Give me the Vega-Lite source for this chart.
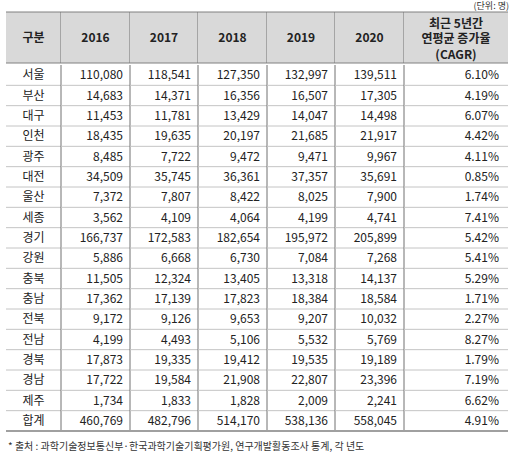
{
  "$schema": "https://vega.github.io/schema/vega-lite/v6.json",
  "padding": {"left": 5, "right": 8, "top": 1, "bottom": 0},
  "spacing": 0,
  "config": {
    "view": {"stroke": null},
    "font": "Noto Sans CJK KR",
    "concat": {"spacing": 0},
    "text": {"fontSize": 12, "color": "#222222", "baseline": "middle"},
    "title": {"fontSize": 10, "fontWeight": "normal", "color": "#333333"}
  },
  "datasets": {
    "header": [
      {"key": "region", "label": "구분"},
      {"key": "y2016", "label": "2016"},
      {"key": "y2017", "label": "2017"},
      {"key": "y2018", "label": "2018"},
      {"key": "y2019", "label": "2019"},
      {"key": "y2020", "label": "2020"},
      {"key": "cagr", "label": "최근 5년간\n연평균 증가율\n(CAGR)"}
    ],
    "rows": [
      {"region": "서울", "y2016": 110080, "y2017": 118541, "y2018": 127350, "y2019": 132997, "y2020": 139511, "cagr": 0.0610},
      {"region": "부산", "y2016": 14683, "y2017": 14371, "y2018": 16356, "y2019": 16507, "y2020": 17305, "cagr": 0.0419},
      {"region": "대구", "y2016": 11453, "y2017": 11781, "y2018": 13429, "y2019": 14047, "y2020": 14498, "cagr": 0.0607},
      {"region": "인천", "y2016": 18435, "y2017": 19635, "y2018": 20197, "y2019": 21685, "y2020": 21917, "cagr": 0.0442},
      {"region": "광주", "y2016": 8485, "y2017": 7722, "y2018": 9472, "y2019": 9471, "y2020": 9967, "cagr": 0.0411},
      {"region": "대전", "y2016": 34509, "y2017": 35745, "y2018": 36361, "y2019": 37357, "y2020": 35691, "cagr": 0.0085},
      {"region": "울산", "y2016": 7372, "y2017": 7807, "y2018": 8422, "y2019": 8025, "y2020": 7900, "cagr": 0.0174},
      {"region": "세종", "y2016": 3562, "y2017": 4109, "y2018": 4064, "y2019": 4199, "y2020": 4741, "cagr": 0.0741},
      {"region": "경기", "y2016": 166737, "y2017": 172583, "y2018": 182654, "y2019": 195972, "y2020": 205899, "cagr": 0.0542},
      {"region": "강원", "y2016": 5886, "y2017": 6668, "y2018": 6730, "y2019": 7084, "y2020": 7268, "cagr": 0.0541},
      {"region": "충북", "y2016": 11505, "y2017": 12324, "y2018": 13405, "y2019": 13318, "y2020": 14137, "cagr": 0.0529},
      {"region": "충남", "y2016": 17362, "y2017": 17139, "y2018": 17823, "y2019": 18384, "y2020": 18584, "cagr": 0.0171},
      {"region": "전북", "y2016": 9172, "y2017": 9126, "y2018": 9653, "y2019": 9207, "y2020": 10032, "cagr": 0.0227},
      {"region": "전남", "y2016": 4199, "y2017": 4493, "y2018": 5106, "y2019": 5532, "y2020": 5769, "cagr": 0.0827},
      {"region": "경북", "y2016": 17873, "y2017": 19335, "y2018": 19412, "y2019": 19535, "y2020": 19189, "cagr": 0.0179},
      {"region": "경남", "y2016": 17722, "y2017": 19584, "y2018": 21908, "y2019": 22807, "y2020": 23396, "cagr": 0.0719},
      {"region": "제주", "y2016": 1734, "y2017": 1833, "y2018": 1828, "y2019": 2009, "y2020": 2241, "cagr": 0.0662},
      {"region": "합계", "y2016": 460769, "y2017": 482796, "y2018": 514170, "y2019": 538136, "y2020": 558045, "cagr": 0.0491}
    ]
  },
  "title": {"text": "(단위: 명)", "anchor": "end", "orient": "top", "offset": 1, "fontSize": 9},
  "vconcat": [
    {
      "bounds": "flush",
      "hconcat": [
        {"width": 55, "height": 51, "view": {"fill": "#d9d9d9", "stroke": null}, "data": {"name": "header"}, "transform": [{"filter": "datum.key === 'region'"}],
         "layer": [
          {"mark": {"type": "text", "fontWeight": "bold"}, "encoding": {"text": {"field": "label", "type": "nominal"}}},
          {"mark": {"type": "rule", "color": "#808080"}, "encoding": {"y": {"value": 0}}},
          {"mark": {"type": "rule", "color": "#808080"}, "encoding": {"y": {"value": "height"}}},
          {"mark": {"type": "rule", "color": "#707070"}, "encoding": {"x": {"value": "width"}}}
         ]},
        {"width": 69, "height": 51, "view": {"fill": "#d9d9d9", "stroke": null}, "data": {"name": "header"}, "transform": [{"filter": "datum.key === 'y2016'"}],
         "layer": [
          {"mark": {"type": "text", "fontWeight": "bold"}, "encoding": {"text": {"field": "label", "type": "nominal"}}},
          {"mark": {"type": "rule", "color": "#808080"}, "encoding": {"y": {"value": 0}}},
          {"mark": {"type": "rule", "color": "#808080"}, "encoding": {"y": {"value": "height"}}},
          {"mark": {"type": "rule", "color": "#707070"}, "encoding": {"x": {"value": "width"}}}
         ]},
        {"width": 68, "height": 51, "view": {"fill": "#d9d9d9", "stroke": null}, "data": {"name": "header"}, "transform": [{"filter": "datum.key === 'y2017'"}],
         "layer": [
          {"mark": {"type": "text", "fontWeight": "bold"}, "encoding": {"text": {"field": "label", "type": "nominal"}}},
          {"mark": {"type": "rule", "color": "#808080"}, "encoding": {"y": {"value": 0}}},
          {"mark": {"type": "rule", "color": "#808080"}, "encoding": {"y": {"value": "height"}}},
          {"mark": {"type": "rule", "color": "#707070"}, "encoding": {"x": {"value": "width"}}}
         ]},
        {"width": 69, "height": 51, "view": {"fill": "#d9d9d9", "stroke": null}, "data": {"name": "header"}, "transform": [{"filter": "datum.key === 'y2018'"}],
         "layer": [
          {"mark": {"type": "text", "fontWeight": "bold"}, "encoding": {"text": {"field": "label", "type": "nominal"}}},
          {"mark": {"type": "rule", "color": "#808080"}, "encoding": {"y": {"value": 0}}},
          {"mark": {"type": "rule", "color": "#808080"}, "encoding": {"y": {"value": "height"}}},
          {"mark": {"type": "rule", "color": "#707070"}, "encoding": {"x": {"value": "width"}}}
         ]},
        {"width": 68, "height": 51, "view": {"fill": "#d9d9d9", "stroke": null}, "data": {"name": "header"}, "transform": [{"filter": "datum.key === 'y2019'"}],
         "layer": [
          {"mark": {"type": "text", "fontWeight": "bold"}, "encoding": {"text": {"field": "label", "type": "nominal"}}},
          {"mark": {"type": "rule", "color": "#808080"}, "encoding": {"y": {"value": 0}}},
          {"mark": {"type": "rule", "color": "#808080"}, "encoding": {"y": {"value": "height"}}},
          {"mark": {"type": "rule", "color": "#707070"}, "encoding": {"x": {"value": "width"}}}
         ]},
        {"width": 69, "height": 51, "view": {"fill": "#d9d9d9", "stroke": null}, "data": {"name": "header"}, "transform": [{"filter": "datum.key === 'y2020'"}],
         "layer": [
          {"mark": {"type": "text", "fontWeight": "bold"}, "encoding": {"text": {"field": "label", "type": "nominal"}}},
          {"mark": {"type": "rule", "color": "#808080"}, "encoding": {"y": {"value": 0}}},
          {"mark": {"type": "rule", "color": "#808080"}, "encoding": {"y": {"value": "height"}}},
          {"mark": {"type": "rule", "color": "#707070"}, "encoding": {"x": {"value": "width"}}}
         ]},
        {"width": 104, "height": 51, "view": {"fill": "#d9d9d9", "stroke": null}, "data": {"name": "header"}, "transform": [{"filter": "datum.key === 'cagr'"}],
         "layer": [
          {"mark": {"type": "text", "fontWeight": "bold", "lineBreak": "\n", "lineHeight": 15.5, "dy": -14}, "encoding": {"text": {"field": "label", "type": "nominal"}}},
          {"mark": {"type": "rule", "color": "#808080"}, "encoding": {"y": {"value": 0}}},
          {"mark": {"type": "rule", "color": "#808080"}, "encoding": {"y": {"value": "height"}}}
         ]}
      ]
    },
    {
      "bounds": "flush",
      "title": {"text": "* 출처 : 과학기술정보통신부·한국과학기술기획평가원, 연구개발활동조사 통계, 각 년도", "orient": "bottom", "anchor": "start", "offset": 10, "dx": 3},
      "hconcat": [
        {"width": 55, "height": 366, "data": {"name": "rows"},
         "layer": [
          {"mark": {"type": "rule", "color": "#c4c4c4"}, "encoding": {"y": {"field": "region", "type": "nominal", "sort": null, "axis": null, "bandPosition": 1, "scale": {"paddingInner": 0, "paddingOuter": 0}}}},
          {"mark": {"type": "text"}, "encoding": {"y": {"field": "region", "type": "nominal", "sort": null, "axis": null, "scale": {"paddingInner": 0, "paddingOuter": 0}}, "text": {"field": "region", "type": "nominal"}}},
          {"data": {"values": [{}]}, "mark": {"type": "rule", "color": "#707070"}, "encoding": {"x": {"value": "width"}}},
          {"data": {"values": [{}]}, "mark": {"type": "rule", "color": "#a0a0a0", "strokeWidth": 2}, "encoding": {"y": {"value": "height"}}}
         ]},
        {"width": 69, "height": 366, "data": {"name": "rows"},
         "layer": [
          {"mark": {"type": "rule", "color": "#c4c4c4"}, "encoding": {"y": {"field": "region", "type": "nominal", "sort": null, "axis": null, "bandPosition": 1, "scale": {"paddingInner": 0, "paddingOuter": 0}}}},
          {"mark": {"type": "text", "align": "right", "dx": -7}, "encoding": {"y": {"field": "region", "type": "nominal", "sort": null, "axis": null, "scale": {"paddingInner": 0, "paddingOuter": 0}}, "x": {"value": "width"}, "text": {"field": "y2016", "type": "quantitative", "format": ","}}},
          {"data": {"values": [{}]}, "mark": {"type": "rule", "color": "#707070"}, "encoding": {"x": {"value": "width"}}},
          {"data": {"values": [{}]}, "mark": {"type": "rule", "color": "#a0a0a0", "strokeWidth": 2}, "encoding": {"y": {"value": "height"}}}
         ]},
        {"width": 68, "height": 366, "data": {"name": "rows"},
         "layer": [
          {"mark": {"type": "rule", "color": "#c4c4c4"}, "encoding": {"y": {"field": "region", "type": "nominal", "sort": null, "axis": null, "bandPosition": 1, "scale": {"paddingInner": 0, "paddingOuter": 0}}}},
          {"mark": {"type": "text", "align": "right", "dx": -7}, "encoding": {"y": {"field": "region", "type": "nominal", "sort": null, "axis": null, "scale": {"paddingInner": 0, "paddingOuter": 0}}, "x": {"value": "width"}, "text": {"field": "y2017", "type": "quantitative", "format": ","}}},
          {"data": {"values": [{}]}, "mark": {"type": "rule", "color": "#707070"}, "encoding": {"x": {"value": "width"}}},
          {"data": {"values": [{}]}, "mark": {"type": "rule", "color": "#a0a0a0", "strokeWidth": 2}, "encoding": {"y": {"value": "height"}}}
         ]},
        {"width": 69, "height": 366, "data": {"name": "rows"},
         "layer": [
          {"mark": {"type": "rule", "color": "#c4c4c4"}, "encoding": {"y": {"field": "region", "type": "nominal", "sort": null, "axis": null, "bandPosition": 1, "scale": {"paddingInner": 0, "paddingOuter": 0}}}},
          {"mark": {"type": "text", "align": "right", "dx": -7}, "encoding": {"y": {"field": "region", "type": "nominal", "sort": null, "axis": null, "scale": {"paddingInner": 0, "paddingOuter": 0}}, "x": {"value": "width"}, "text": {"field": "y2018", "type": "quantitative", "format": ","}}},
          {"data": {"values": [{}]}, "mark": {"type": "rule", "color": "#707070"}, "encoding": {"x": {"value": "width"}}},
          {"data": {"values": [{}]}, "mark": {"type": "rule", "color": "#a0a0a0", "strokeWidth": 2}, "encoding": {"y": {"value": "height"}}}
         ]},
        {"width": 68, "height": 366, "data": {"name": "rows"},
         "layer": [
          {"mark": {"type": "rule", "color": "#c4c4c4"}, "encoding": {"y": {"field": "region", "type": "nominal", "sort": null, "axis": null, "bandPosition": 1, "scale": {"paddingInner": 0, "paddingOuter": 0}}}},
          {"mark": {"type": "text", "align": "right", "dx": -7}, "encoding": {"y": {"field": "region", "type": "nominal", "sort": null, "axis": null, "scale": {"paddingInner": 0, "paddingOuter": 0}}, "x": {"value": "width"}, "text": {"field": "y2019", "type": "quantitative", "format": ","}}},
          {"data": {"values": [{}]}, "mark": {"type": "rule", "color": "#707070"}, "encoding": {"x": {"value": "width"}}},
          {"data": {"values": [{}]}, "mark": {"type": "rule", "color": "#a0a0a0", "strokeWidth": 2}, "encoding": {"y": {"value": "height"}}}
         ]},
        {"width": 69, "height": 366, "data": {"name": "rows"},
         "layer": [
          {"mark": {"type": "rule", "color": "#c4c4c4"}, "encoding": {"y": {"field": "region", "type": "nominal", "sort": null, "axis": null, "bandPosition": 1, "scale": {"paddingInner": 0, "paddingOuter": 0}}}},
          {"mark": {"type": "text", "align": "right", "dx": -7}, "encoding": {"y": {"field": "region", "type": "nominal", "sort": null, "axis": null, "scale": {"paddingInner": 0, "paddingOuter": 0}}, "x": {"value": "width"}, "text": {"field": "y2020", "type": "quantitative", "format": ","}}},
          {"data": {"values": [{}]}, "mark": {"type": "rule", "color": "#707070"}, "encoding": {"x": {"value": "width"}}},
          {"data": {"values": [{}]}, "mark": {"type": "rule", "color": "#a0a0a0", "strokeWidth": 2}, "encoding": {"y": {"value": "height"}}}
         ]},
        {"width": 104, "height": 366, "data": {"name": "rows"},
         "layer": [
          {"mark": {"type": "rule", "color": "#c4c4c4"}, "encoding": {"y": {"field": "region", "type": "nominal", "sort": null, "axis": null, "bandPosition": 1, "scale": {"paddingInner": 0, "paddingOuter": 0}}}},
          {"mark": {"type": "text", "align": "right", "dx": -9}, "encoding": {"y": {"field": "region", "type": "nominal", "sort": null, "axis": null, "scale": {"paddingInner": 0, "paddingOuter": 0}}, "x": {"value": "width"}, "text": {"field": "cagr", "type": "quantitative", "format": ".2%"}}},
          {"data": {"values": [{}]}, "mark": {"type": "rule", "color": "#a0a0a0", "strokeWidth": 2}, "encoding": {"y": {"value": "height"}}}
         ]}
      ]
    }
  ]
}
